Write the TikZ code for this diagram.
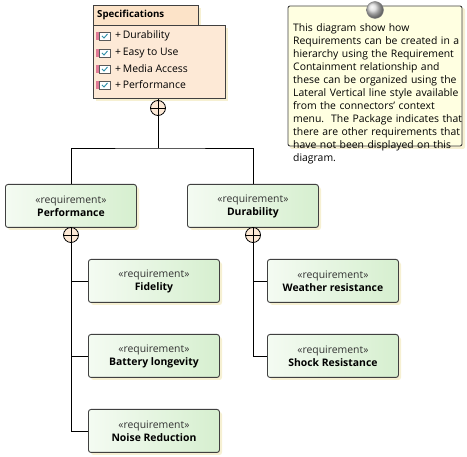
\documentclass[tikz,border=0pt]{standalone}
\usepackage{fontspec}
\setmainfont{Open Sans}
\usetikzlibrary{shadings}
\definecolor{edge}{HTML}{404040}
\definecolor{reqL}{HTML}{F4FBF2}
\definecolor{reqR}{HTML}{D6EFCF}
\definecolor{shad}{HTML}{F6F0D2}
\definecolor{peach}{HTML}{FDE9D6}
\definecolor{peachH}{HTML}{FCE3C8}
\definecolor{noteF}{HTML}{FFFFE1}
\definecolor{stereo}{HTML}{333333}
\definecolor{pinkbar}{HTML}{E07A96}
\definecolor{checkc}{HTML}{2E8FA8}
\begin{document}
\begin{tikzpicture}[x=1pt,y=-1pt,
  req/.style={rectangle,rounded corners=2.5pt,draw=edge,line width=0.9pt,
    left color=reqL,right color=reqR,minimum width=131pt,minimum height=43pt,
    align=center,inner sep=0pt,font=\fontsize{10.4}{13}\selectfont},
  conn/.style={draw=black,line width=0.8pt},
  cont/.style={circle,draw=black,line width=0.8pt,fill=peach,minimum size=15pt,inner sep=0pt},
  item/.style={anchor=west,font=\fontsize{10.4}{12}\selectfont,inner sep=0pt}
]
\useasboundingbox (0,0) rectangle (467,457);
\newcommand{\reqbox}[4]{%
  \fill[shad,rounded corners=2.5pt] (#1+3,#2+3) rectangle ++(131,43);
  \node[req,anchor=north west] (#3) at (#1,#2) {{\color{stereo}«requirement»}\\\textbf{#4}};}
% Specifications
\fill[shad] (96,28) rectangle (228,101);
\fill[shad] (96,8) rectangle (201,28);
\draw[edge,line width=0.9pt,fill=peachH] (93,5) rectangle (198,25);
\node[anchor=west,inner sep=0pt,font=\bfseries\fontsize{9.7}{10}\selectfont] (spectitle) at (97,15) {Specifications};
\node[draw=edge,line width=0.9pt,fill=peach,anchor=north west,minimum width=132pt,minimum height=73pt,inner sep=0pt] (spec) at (93,25) {};
\foreach \yy/\t [count=\i] in {36/Durability,53/Easy to Use,69/Media Access,85/Performance}{
  \fill[pinkbar] (96,\yy-4) rectangle (99,\yy+4);
  \draw[gray!70!black,line width=0.5pt,fill=white] (99,\yy-4) rectangle (110,\yy+4);
  \draw[checkc,line width=0.9pt] (102,\yy) -- (104,\yy+2) -- (107.5,\yy-2);
  \node[item] (it\i) at (115,\yy) {+\,\t};
}
% note
\fill[shad,rounded corners=2pt] (290,8) rectangle (465,149);
\draw[edge,line width=0.9pt,fill=noteF,rounded corners=2pt] (288,6) rectangle (462,146);
\shade[ball color=gray!30!white,draw=gray] (375,10) circle (8.5);
\node[anchor=north west,align=left,inner sep=0pt,font=\fontsize{10.4}{13}\selectfont,text width=172pt] (note) at (293,23) {This diagram show how\\Requirements can be created in a\\hierarchy using the Requirement\\Containment relationship and\\these can be organized using the\\Lateral Vertical line style available\\from the connectors' context\\menu.\ \ The Package indicates that\\there are other requirements that\\have not been displayed on this\\diagram.};
% requirement boxes
\reqbox{5}{184}{perf}{Performance}
\reqbox{187}{184}{dur}{Durability}
\reqbox{88}{259}{fid}{Fidelity}
\reqbox{88}{334}{bat}{Battery longevity}
\reqbox{88}{409}{noise}{Noise Reduction}
\reqbox{267}{259}{weath}{Weather resistance}
\reqbox{267}{334}{shock}{Shock Resistance}
% containment circles
\node[cont] (c0) at (158,108) {};
\node[cont] (c1) at (71,235) {};
\node[cont] (c2) at (253,235) {};
\foreach \c in {c0,c1,c2}{
  \draw[conn] (\c.north) -- (\c.south);
  \draw[conn] (\c.west) -- (\c.east);
}
% connectors
\draw[conn] (spec.south -| c0) -- (c0.north);
\coordinate (j0) at (158,148);
\draw[conn] (c0.south) -- (j0);
\draw[conn] (perf.north -| c1) |- (j0) -| (dur.north -| c2);
\draw[conn] (perf.south -| c1) -- (c1.north);
\draw[conn] (dur.south -| c2) -- (c2.north);
\draw[conn] (c1.south) |- (fid.west);
\draw[conn] (c1.south) |- (bat.west);
\draw[conn] (c1.south) |- (noise.west);
\draw[conn] (c2.south) |- (weath.west);
\draw[conn] (c2.south) |- (shock.west);
\end{tikzpicture}
\end{document}
